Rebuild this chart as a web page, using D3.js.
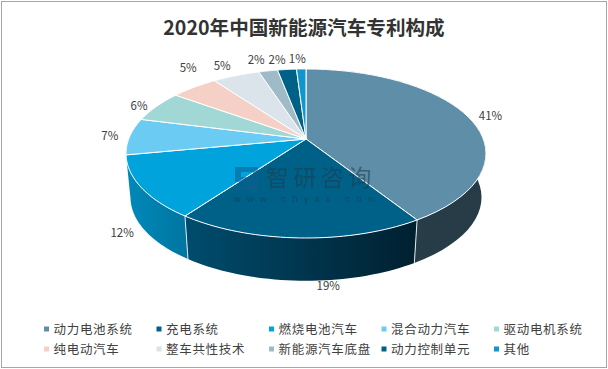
<!DOCTYPE html>
<html>
<head>
<meta charset="utf-8">
<script src="https://cdn.jsdelivr.net/npm/d3@7/dist/d3.min.js"></script>
<style>
  html, body { margin: 0; padding: 0; background: #fff; }
  text { font-family: "Noto Sans CJK SC", "Noto Sans", sans-serif; }
</style>
</head>
<body>
<svg id="chart"></svg>
<script>
const titleText = '2020年中国新能源汽车专利构成';
const categories = ['动力电池系统', '充电系统', '燃烧电池汽车', '混合动力汽车', '驱动电机系统',
  '纯电动汽车', '整车共性技术', '新能源汽车底盘', '动力控制单元', '其他'];
const shares = [41, 19, 12, 7, 6, 5, 5, 2, 2, 1];
const colors = ['#5f8fa8', '#006188', '#00a3dc', '#6bcbf3', '#a1d8d5',
  '#f5d0c7', '#dbe4ea', '#9fbbc7', '#006188', '#0f96cf'];

const width = 608;
const height = 369;

const svg = d3.select('#chart')
  .attr('width', width)
  .attr('height', height)
  .style('display', 'block');

const defs = svg.append('defs');

// outer frame
svg.append('rect')
  .attr('x', 1.5).attr('y', 1.5)
  .attr('width', width - 3).attr('height', height - 3)
  .attr('fill', '#fff')
  .attr('stroke', '#a6a6a6')
  .attr('stroke-width', 1);

svg.append('text')
  .attr('x', 304).attr('y', 35)
  .attr('text-anchor', 'middle')
  .attr('font-size', 19.6)
  .attr('font-weight', 700)
  .attr('fill', '#333')
  .text(titleText);

// perspective circle -> screen, a is the pie angle (0 at top, clockwise)
const tilt = 0.1716;
const topPlane = { x: 306, y: 139, a: 177.3, b: 82 };
const lowPlane = { x: 306, y: 183, a: 172.9, b: 81 };
function project(plane, a) {
  const u = Math.sin(a), v = Math.cos(a), w = 1 + tilt * v;
  return [plane.x + plane.a * u / w, plane.y - plane.b * v / w];
}
function rim(plane, a0, a1) {
  return d3.range(0, 41).map(i => project(plane, a0 + (a1 - a0) * i / 40));
}

const slices = d3.pie().sort(null).value(d => d)(shares);
const line = d3.line();

// side wall, only the first three slices reach the near half
const sideStops = [
  ['#283f4a', '#263b46'],
  ['#004c6e', '#00202f'],
  ['#0089ba', '#0075a0']
];
const sides = svg.append('g');
slices.slice(0, 3).forEach((s, i) => {
  const a0 = s.startAngle, a1 = s.endAngle;
  const pts = rim(topPlane, a0, a1).concat(rim(lowPlane, a0, a1).reverse());
  const xs = d3.extent(pts, p => p[0]);
  const g = defs.append('linearGradient')
    .attr('id', 'side' + i)
    .attr('gradientUnits', 'userSpaceOnUse')
    .attr('x1', xs[0]).attr('x2', xs[1]).attr('y1', 0).attr('y2', 0);
  g.append('stop').attr('offset', 0).attr('stop-color', sideStops[i][0]);
  g.append('stop').attr('offset', 1).attr('stop-color', sideStops[i][1]);
  sides.append('path')
    .attr('d', line(pts) + 'Z')
    .attr('fill', `url(#side${i})`);
});
// seams between the walls
sides.selectAll('line')
  .data(slices.slice(0, 2))
  .enter().append('line')
  .attr('x1', d => project(topPlane, d.endAngle)[0])
  .attr('y1', d => project(topPlane, d.endAngle)[1])
  .attr('x2', d => project(lowPlane, d.endAngle)[0])
  .attr('y2', d => project(lowPlane, d.endAngle)[1])
  .attr('stroke', '#dfe8ec')
  .attr('stroke-width', 1);

// top face
svg.append('g').selectAll('path')
  .data(slices)
  .enter().append('path')
  .attr('d', d => line([[topPlane.x, topPlane.y]].concat(rim(topPlane, d.startAngle, d.endAngle))) + 'Z')
  .attr('fill', (d, i) => colors[i])
  .attr('stroke', '#fff')
  .attr('stroke-width', 1)
  .attr('stroke-linejoin', 'round');

// watermark
const mark = svg.append('g');
mark.append('path')
  .attr('d', 'M235 167h23v10h-5v-5h-12v5h17v13h-23v-5h18v-3h-18z')
  .attr('fill', '#0f5f92')
  .attr('opacity', 0.55);
mark.append('text')
  .attr('x', 266).attr('y', 186)
  .attr('font-size', 23)
  .attr('letter-spacing', 4.4)
  .attr('fill', '#1b3f55')
  .attr('opacity', 0.6)
  .text('智研咨询');
mark.append('text')
  .attr('x', 234).attr('y', 201.5)
  .attr('font-size', 9.5)
  .attr('letter-spacing', 6.2)
  .attr('fill', '#1b3f55')
  .attr('opacity', 0.7)
  .style('font-family', '"Liberation Sans", sans-serif')
  .text('www.chyxx.com');

// label nudges from the rim point at the middle of each slice
const labelNudge = [[22, -1], [29, 48], [-19, 45], [-20, -1], [-17.5, -1],
  [-6, -19], [-14, -10], [-12, -11], [-10, -10], [-4, -10]];
svg.append('g').selectAll('text')
  .data(slices)
  .enter().append('text')
  .attr('transform', (d, i) => {
    const p = project(topPlane, (d.startAngle + d.endAngle) / 2);
    return `translate(${p[0] + labelNudge[i][0]},${p[1] + labelNudge[i][1]})`;
  })
  .attr('dy', '0.36em')
  .attr('text-anchor', 'middle')
  .attr('font-size', 11.5)
  .attr('fill', '#404040')
  .text(d => d.value + '%');

// legend
const legendX = d3.scalePoint().domain(d3.range(5)).range([44, 494]);
const legendY = d3.scalePoint().domain(d3.range(2)).range([329, 349]);
const item = svg.append('g').selectAll('g')
  .data(categories)
  .enter().append('g')
  .attr('transform', (d, i) => `translate(${legendX(i % 5)},${legendY(Math.floor(i / 5))})`);
item.append('rect')
  .attr('x', 0).attr('y', -2.5)
  .attr('width', 5).attr('height', 5)
  .attr('fill', (d, i) => colors[i]);
item.append('text')
  .attr('x', 9.5)
  .attr('dy', '0.36em')
  .attr('font-size', 12.5)
  .attr('letter-spacing', 0.7)
  .attr('fill', '#404040')
  .text(d => d);
</script>
</body>
</html>
